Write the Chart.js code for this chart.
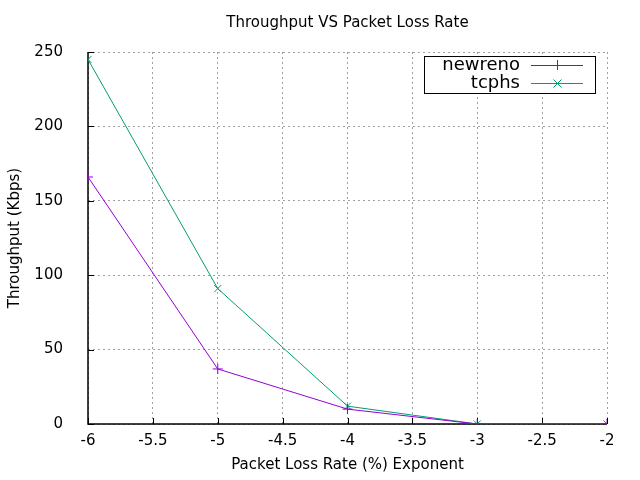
<!DOCTYPE html>
<html>
<head>
<meta charset="utf-8">
<script src="https://cdn.jsdelivr.net/npm/chart.js@4/dist/chart.umd.min.js"></script>
<style>
  html, body { margin: 0; padding: 0; background: #fff; }
  canvas { display: block; }
</style>
</head>
<body>
<canvas id="chart-container" width="640" height="480"></canvas>
<script>
// values
const lossExponents = [-6, -5, -4, -3, -2]
const newrenoValues = [166, 37, 10, 0, 0]
const tcphsValues = [245, 91, 12, 0, 0]
const seriesNames = ['newreno', 'tcphs']
const xTicks = [-6, -5.5, -5, -4.5, -4, -3.5, -3, -2.5, -2]
const yTicks = [0, 50, 100, 150, 200, 250]

const FONT = "'DejaVu Sans', sans-serif"

const toPoints = (vals) => lossExponents.map((x, i) => ({ x: x, y: vals[i] }))

// solid axes under the data, like gnuplot's border 3
const gnuplotAxes = {
  id: 'gnuplotAxes',
  beforeDatasetsDraw(chart) {
    const { ctx, chartArea: area, scales } = chart
    ctx.save()
    ctx.strokeStyle = '#000'
    ctx.lineWidth = 1.5
    ctx.beginPath()
    ctx.moveTo(area.left, area.top)
    ctx.lineTo(area.left, area.bottom)
    ctx.lineTo(area.right, area.bottom)
    ctx.stroke()

    // inward tick marks
    ctx.lineWidth = 1
    ctx.beginPath()
    for (const t of xTicks) {
      const px = Math.round(scales.x.getPixelForValue(t)) + 0.5
      ctx.moveTo(px, area.bottom)
      ctx.lineTo(px, area.bottom - 6)
    }
    for (const t of yTicks) {
      const py = Math.round(scales.y.getPixelForValue(t)) + 0.5
      ctx.moveTo(area.left, py)
      ctx.lineTo(area.left + 6, py)
    }
    ctx.stroke()
    ctx.restore()
  }
}

// titles and the boxed key
const gnuplotBits = {
  id: 'gnuplotBits',
  afterDraw(chart) {
    const { ctx, chartArea: area } = chart
    ctx.save()
    ctx.fillStyle = '#000'
    ctx.font = '15px ' + FONT
    ctx.textAlign = 'center'
    ctx.textBaseline = 'middle'
    ctx.fillText('Throughput VS Packet Loss Rate', (area.left + area.right) / 2, 23)
    ctx.fillText('Packet Loss Rate (%) Exponent', (area.left + area.right) / 2, 465)
    ctx.save()
    ctx.translate(15, (area.top + area.bottom) / 2)
    ctx.rotate(-Math.PI / 2)
    ctx.fillText('Throughput (Kbps)', 0, 0)
    ctx.restore()

    // key box
    const bx = 424.5, by = 56.5, bw = 171, bh = 37
    ctx.strokeStyle = '#000'
    ctx.lineWidth = 1
    ctx.fillStyle = '#fff'
    ctx.fillRect(bx, by, bw, bh)
    ctx.strokeRect(bx, by, bw, bh)
    ctx.font = '18px ' + FONT
    ctx.textAlign = 'right'
    chart.data.datasets.forEach((ds, i) => {
      const y = 65 + i * 18
      ctx.fillStyle = '#000'
      ctx.fillText(ds.label, 520, y)
      ctx.strokeStyle = ds.borderColor
      ctx.beginPath()
      ctx.moveTo(531, y + 0.5)
      ctx.lineTo(583, y + 0.5)
      ctx.stroke()
      ctx.beginPath()
      if (i === 0) {
        ctx.moveTo(557.5, y - 5); ctx.lineTo(557.5, y + 5)
      } else {
        ctx.moveTo(553.5, y - 3.5); ctx.lineTo(561.5, y + 4.5)
        ctx.moveTo(561.5, y - 3.5); ctx.lineTo(553.5, y + 4.5)
      }
      ctx.stroke()
    })
    ctx.restore()
  }
}

const data = {
  datasets: [{
    label: seriesNames[0],
    data: toPoints(newrenoValues),
    borderColor: '#9400d3',
    backgroundColor: '#9400d3',
    borderWidth: 1,
    pointStyle: 'cross',
    pointRadius: 5,
    pointBorderWidth: 1,
  }, {
    label: seriesNames[1],
    data: toPoints(tcphsValues),
    borderColor: '#009e73',
    backgroundColor: '#009e73',
    borderWidth: 1,
    pointStyle: 'crossRot',
    pointRadius: 5,
    pointBorderWidth: 1,
  }]
}

const gridOpts = {
  color: '#a0a0a0',
  lineWidth: 1,
  drawTicks: false,
}

const lineOptions = {
  type: 'line',
  data: data,
  plugins: [gnuplotAxes, gnuplotBits],
  options: {
    responsive: false,
    animation: false,
    devicePixelRatio: 1,
    layout: { padding: { top: 52, right: 33, left: 0, bottom: 0 } },
    plugins: {
      legend: { display: false },
      title: { display: false },
      tooltip: { enabled: false },
    },
    scales: {
      x: {
        type: 'linear',
        min: -6,
        max: -2,
        afterBuildTicks: (axis) => { axis.ticks = xTicks.map(v => ({ value: v })) },
        afterFit: (axis) => { axis.height = 56 },
        ticks: {
          color: '#000',
          font: { family: FONT, size: 15 },
          padding: 8,
          maxRotation: 0,
          callback: (v) => String(v),
        },
        grid: gridOpts,
        border: { display: false, dash: [2, 3] },
      },
      y: {
        type: 'linear',
        min: 0,
        max: 250,
        afterBuildTicks: (axis) => { axis.ticks = yTicks.map(v => ({ value: v })) },
        afterFit: (axis) => { axis.width = 88 },
        ticks: {
          color: '#000',
          font: { family: FONT, size: 15 },
          padding: 25,
          callback: (v) => String(v),
        },
        grid: gridOpts,
        border: { display: false, dash: [2, 3] },
      }
    }
  }
}

new Chart(document.getElementById('chart-container'), lineOptions)
</script>
</body>
</html>
